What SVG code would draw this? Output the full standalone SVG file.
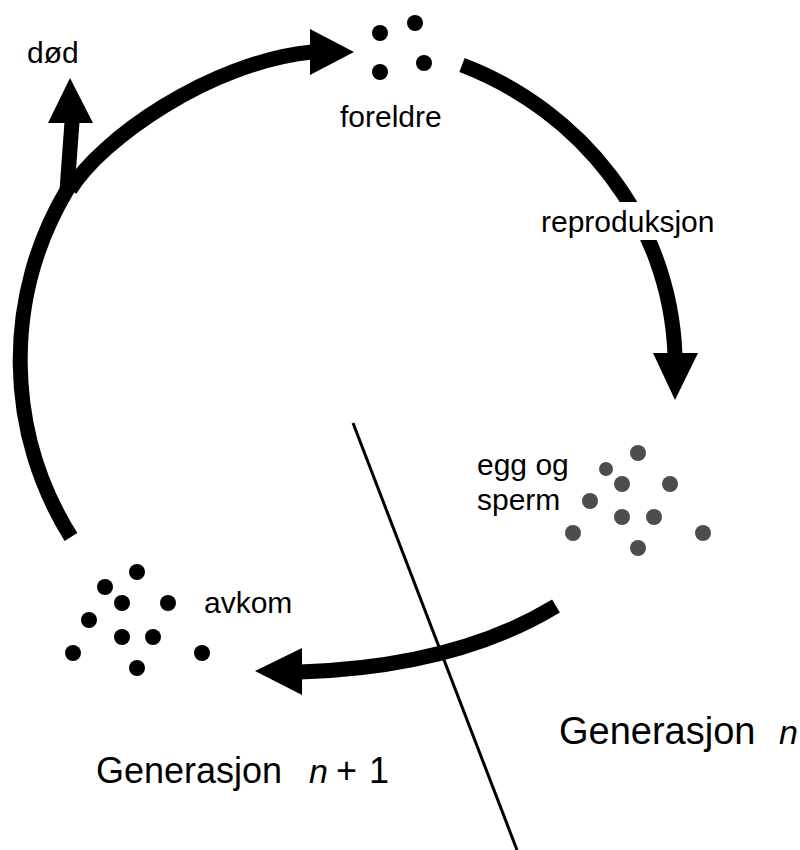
<svg xmlns="http://www.w3.org/2000/svg" width="800" height="850" viewBox="0 0 800 850">
<style>
.arc{fill:none;stroke:#000;stroke-width:15;stroke-linecap:butt;stroke-linejoin:round}
.head{fill:#000}
.lbl{font-family:"Liberation Sans",Arial,sans-serif;font-size:30px;fill:#000}
.gen{font-family:"Liberation Sans",Arial,sans-serif;fill:#000}
.dk{fill:#000}
.gr{fill:#4d4d4d}
</style>
<rect width="800" height="850" fill="#fff"/>
<g id="connectors">
<path class="arc" d="M 71 537 A 333 333 0 0 1 67 190 L 72 122"/>
<polygon class="head" points="48,123 70,78 93,123"/>
<path class="arc" d="M 70 190 C 100 140, 210 62, 312 52"/>
<polygon class="head" points="310,29 354,52 310,75"/>
<path class="arc" d="M 462 65 C 580 110, 670 220, 675 355"/>
<polygon class="head" points="653,353 675,400 698,353"/>
<rect x="538" y="202" width="185" height="38" fill="#fff"/>
<path class="arc" d="M 556 606 C 500 640, 420 668, 300 672"/>
<polygon class="head" points="302,648 255,671 302,695"/>
<line x1="353" y1="423" x2="517" y2="850" stroke="#000" stroke-width="3"/>
</g>
<g id="dod"><text class="lbl" x="27" y="63">død</text></g>
<g id="foreldre">
<circle class="dk" cx="380" cy="33" r="8"/>
<circle class="dk" cx="415" cy="23" r="8"/>
<circle class="dk" cx="380" cy="72" r="8"/>
<circle class="dk" cx="424" cy="63" r="8"/>
<text class="lbl" x="340" y="127">foreldre</text>
</g>
<g id="reproduksjon"><text class="lbl" x="541" y="232">reproduksjon</text></g>
<g id="egg-og-sperm">
<text class="lbl" x="477" y="475">egg og</text>
<text class="lbl" x="477" y="510">sperm</text>
<circle class="gr" cx="638" cy="453" r="8"/>
<circle class="gr" cx="606" cy="469" r="7"/>
<circle class="gr" cx="622" cy="484" r="8"/>
<circle class="gr" cx="670" cy="484" r="8"/>
<circle class="gr" cx="590" cy="501" r="8"/>
<circle class="gr" cx="622" cy="517" r="8"/>
<circle class="gr" cx="654" cy="517" r="8"/>
<circle class="gr" cx="573" cy="533" r="8"/>
<circle class="gr" cx="703" cy="533" r="8"/>
<circle class="gr" cx="638" cy="548" r="8"/>
</g>
<g id="avkom">
<circle class="dk" cx="137" cy="572" r="8"/>
<circle class="dk" cx="105" cy="587" r="8"/>
<circle class="dk" cx="122" cy="603" r="8"/>
<circle class="dk" cx="168" cy="603" r="8"/>
<circle class="dk" cx="89" cy="620" r="8"/>
<circle class="dk" cx="122" cy="637" r="8"/>
<circle class="dk" cx="153" cy="637" r="8"/>
<circle class="dk" cx="73" cy="653" r="8"/>
<circle class="dk" cx="202" cy="653" r="8"/>
<circle class="dk" cx="137" cy="668" r="8"/>
<text class="lbl" x="204" y="613">avkom</text>
</g>
<g id="gen-n"><text class="gen" font-size="38" x="559" y="744">Generasjon<tspan x="779" font-size="34" font-style="italic">n</tspan></text></g>
<g id="gen-n1"><text class="gen" font-size="36" x="96" y="783">Generasjon<tspan x="309" font-size="34" font-style="italic">n</tspan><tspan x="336">+</tspan><tspan x="369">1</tspan></text></g>
</svg>
